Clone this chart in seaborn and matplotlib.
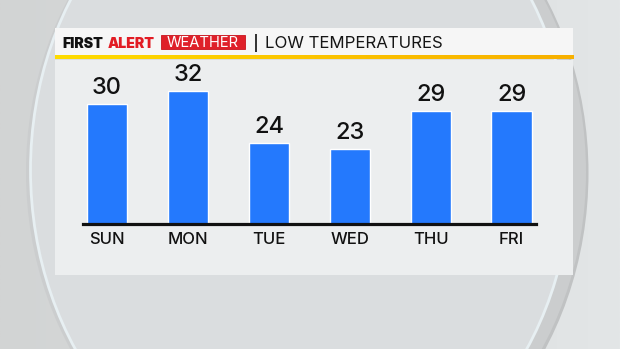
import numpy as np
import matplotlib
matplotlib.use("Agg")
import matplotlib.pyplot as plt
from matplotlib.patches import Rectangle, Ellipse
from matplotlib.colors import LinearSegmentedColormap
import seaborn as sns

# ---- data ----
days = ["SUN", "MON", "TUE", "WED", "THU", "FRI"]
low_temps = [30, 32, 24, 23, 29, 29]
title_left = ["FIRST", "ALERT", "WEATHER"]
title_right = "LOW TEMPERATURES"

sns.set_theme(style="white")
plt.rcParams['font.family'] = ['Inter', 'DejaVu Sans']

W, H = 620, 349
fig = plt.figure(figsize=(W / 100, H / 100), dpi=100)

# ---- background (pixel coordinates) ----
bg = fig.add_axes([0, 0, 1, 1], zorder=0)
bg.set_xlim(0, W)
bg.set_ylim(H, 0)
bg.axis("off")
grad = np.linspace(0, 1, 256).reshape(1, -1)
cmap_bg = LinearSegmentedColormap.from_list("bg", ["#d2d4d4", "#d9dcdd", "#e3e6e7"])
bg.imshow(grad, extent=[0, W, H, 0], aspect="auto", cmap=cmap_bg, zorder=0)
bg.add_patch(Ellipse((310, 173), 557, 658, facecolor="#c0c2c3", edgecolor="none", zorder=1))
bg.add_patch(Ellipse((306, 172), 560, 656, facecolor="#cbcdce", edgecolor="none", zorder=1.5))
bg.add_patch(Ellipse((301, 170), 541, 650, facecolor="#dadddf", edgecolor="#e7eff2", lw=2.0, zorder=2))

# panel
px0, px1, py0, py1 = 54.6, 573.0, 28.3, 275.0
bg.add_patch(Rectangle((px0, 59.5), px1 - px0, py1 - 59.5, facecolor="#eceeef", edgecolor="none", zorder=3))
bg.add_patch(Rectangle((px0, py0), px1 - px0, 56.0 - py0, facecolor="#f6f6f6", edgecolor="none", zorder=3))
stripe = np.linspace(0, 1, 256).reshape(1, -1)
cmap_st = LinearSegmentedColormap.from_list("st", ["#ffdc00", "#fcc400", "#f7b000"])
bg.imshow(stripe, extent=[px0, px1, 59.5, 56.0], aspect="auto", cmap=cmap_st, zorder=4)
bg.set_xlim(0, W)
bg.set_ylim(H, 0)

# header
ty = 43.6
bg.text(62.7, ty, title_left[0], fontsize=10.2, fontweight="black", color="#111111",
        ha="left", va="center", zorder=6)
bg.text(107.5, ty, title_left[1], fontsize=10.2, fontweight="black", color="#e21c24",
        ha="left", va="center", zorder=6)
bg.add_patch(Rectangle((160.7, 34.7), 84.6, 14.6, facecolor="#df2029", edgecolor="#c8141d", lw=0.6, zorder=5))
bg.text(203.0, ty - 0.3, title_left[2], fontsize=10.6, color="white", ha="center", va="center", zorder=6)
bg.plot([256, 256], [34.0, 51.7], color="#222222", lw=1.3, zorder=6, solid_capstyle="butt")
bg.text(265.3, ty, title_right, fontsize=12.1, color="#151515", ha="left", va="center", zorder=6)

# ---- bar chart ----
ax_left, ax_right, base_y = 83.4, 536.2, 223.7
ymin, ymax, pxdeg = 11.44, 36.0, 6.44
ax_h = (ymax - ymin) * pxdeg
ax = fig.add_axes([ax_left / W, (H - base_y) / H, (ax_right - ax_left) / W, ax_h / H], zorder=2)
ax.patch.set_alpha(0)
sns.barplot(x=days, y=low_temps, color="#2479fd", saturation=1, width=0.5, ax=ax)
ax.set_xlim(-0.292, 5.303)
ax.set_ylim(ymin, ymax)
ax.bar_label(ax.containers[0], labels=[str(v) for v in low_temps], padding=3.5,
             fontsize=17, fontweight="medium", color="#111111")
for s in ["top", "left", "right"]:
    ax.spines[s].set_visible(False)
ax.spines["bottom"].set_color("#111111")
ax.spines["bottom"].set_linewidth(2.3)
ax.set_yticks([])
ax.set_xlabel("")
ax.set_ylabel("")
ax.tick_params(axis="x", length=0, pad=6, labelsize=12, labelcolor="#111111")
for lab in ax.get_xticklabels():
    lab.set_fontweight("medium")

fig.savefig("out.png", dpi=100)
